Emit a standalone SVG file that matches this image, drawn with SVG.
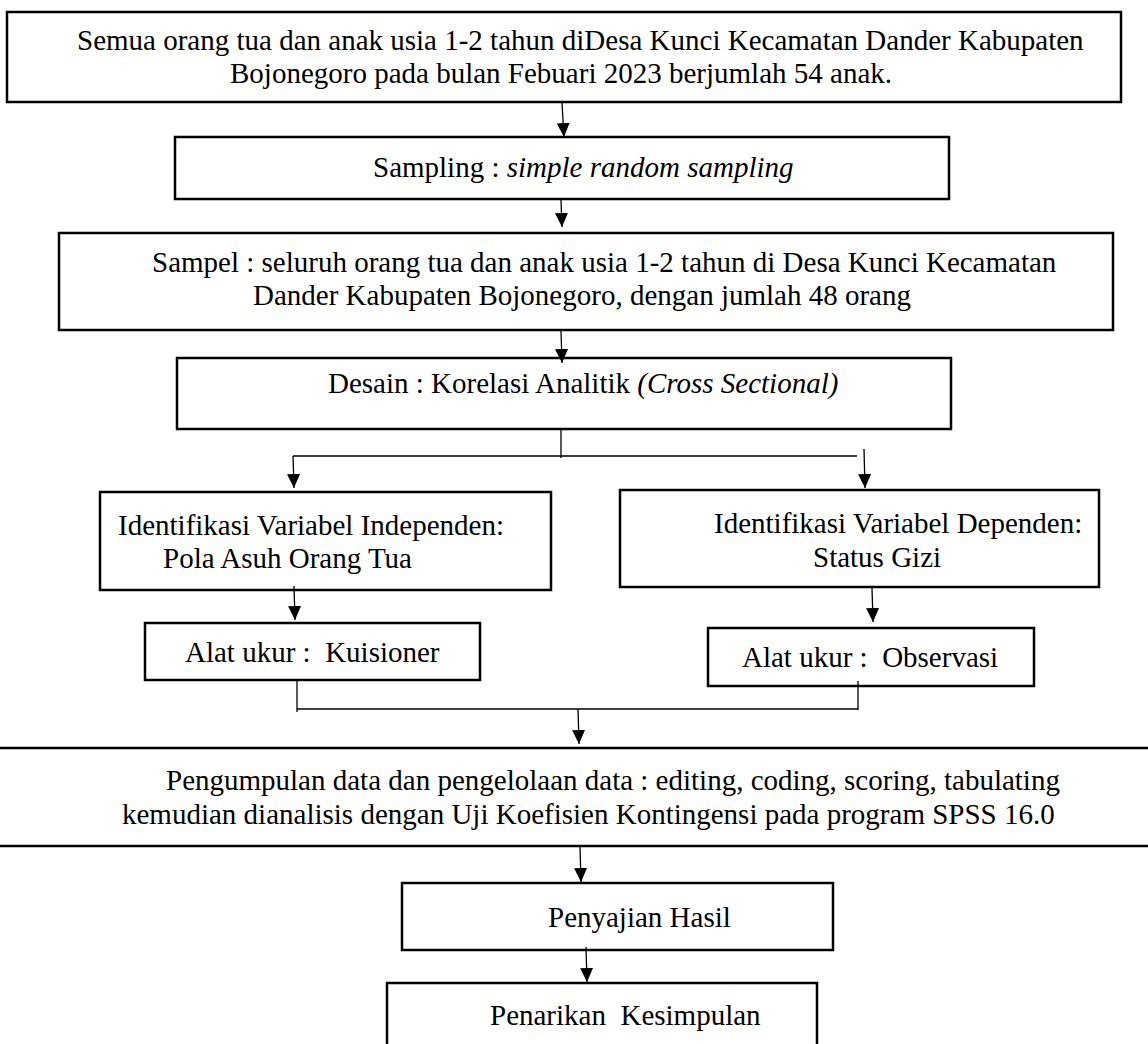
<svg xmlns="http://www.w3.org/2000/svg" width="1148" height="1044" viewBox="0 0 1148 1044">
<style>
.box{fill:#fff;stroke:#000;stroke-width:2.5}
.t{font-family:"Liberation Serif","Times New Roman",serif;font-size:29px;fill:#000}
.i{font-style:italic}
.c{fill:none;stroke:#000;stroke-width:1.3}
.a{marker-end:url(#ah)}
</style>
<defs>
<marker id="ah" markerUnits="userSpaceOnUse" markerWidth="14" markerHeight="13" refX="14" refY="6.5" orient="auto" viewBox="0 0 14 13"><path d="M0,0 L14,6.5 L0,13 z" fill="#000"/></marker>
</defs>
<rect width="1148" height="1044" fill="#fff"/>
<g id="n1"><rect class="box" x="7" y="12" width="1114" height="90"/>
<text class="t" x="77" y="50">Semua orang tua dan anak usia 1-2 tahun diDesa Kunci Kecamatan Dander Kabupaten</text>
<text class="t" x="230" y="83">Bojonegoro pada bulan Febuari 2023 berjumlah 54 anak.</text></g>
<g id="n2"><rect class="box" x="175" y="137" width="774" height="62"/>
<text class="t" x="373" y="177">Sampling : <tspan class="i">simple random sampling</tspan></text></g>
<g id="n3"><rect class="box" x="59" y="233" width="1054" height="97"/>
<text class="t" x="152" y="272">Sampel : seluruh orang tua dan anak usia 1-2 tahun di Desa Kunci Kecamatan</text>
<text class="t" x="253" y="305">Dander Kabupaten Bojonegoro, dengan jumlah 48 orang</text></g>
<g id="n4"><rect class="box" x="177" y="358" width="774" height="71"/>
<text class="t" x="328" y="393">Desain : Korelasi Analitik <tspan class="i">(Cross Sectional)</tspan></text></g>
<g id="n5"><rect class="box" x="100" y="492" width="451" height="98"/>
<text class="t" x="118" y="535">Identifikasi Variabel Independen:</text>
<text class="t" x="163" y="568">Pola Asuh Orang Tua</text></g>
<g id="n6"><rect class="box" x="620" y="490" width="479" height="97"/>
<text class="t" x="714" y="533">Identifikasi Variabel Dependen:</text>
<text class="t" x="813" y="567">Status Gizi</text></g>
<g id="n7"><rect class="box" x="145" y="623" width="335" height="57"/>
<text class="t" x="185" y="662" xml:space="preserve">Alat ukur :  Kuisioner</text></g>
<g id="n8"><rect class="box" x="708" y="628" width="326" height="58"/>
<text class="t" x="742" y="667" xml:space="preserve">Alat ukur :  Observasi</text></g>
<g id="n9"><rect class="box" x="-10" y="748" width="1170" height="98"/>
<text class="t" x="166" y="790">Pengumpulan data dan pengelolaan data : editing, coding, scoring, tabulating</text>
<text class="t" x="122" y="824">kemudian dianalisis dengan Uji Koefisien Kontingensi pada program SPSS 16.0</text></g>
<g id="n10"><rect class="box" x="402" y="883" width="431" height="67"/>
<text class="t" x="548" y="927">Penyajian Hasil</text></g>
<g id="n11"><rect class="box" x="387" y="983" width="430" height="80"/>
<text class="t" x="490" y="1025" xml:space="preserve">Penarikan  Kesimpulan</text></g>
<g id="connectors">
<line class="c a" x1="562" y1="103" x2="564" y2="137"/>
<line class="c a" x1="561" y1="200" x2="562" y2="227"/>
<line class="c a" x1="561" y1="331" x2="562" y2="363"/>
<line class="c" x1="561" y1="430" x2="561" y2="458"/>
<line class="c" x1="293" y1="456" x2="857" y2="456"/>
<line class="c a" x1="293" y1="456" x2="294" y2="488"/>
<line class="c a" x1="864" y1="449" x2="865" y2="488"/>
<line class="c a" x1="294" y1="586" x2="295" y2="620"/>
<line class="c a" x1="872" y1="588" x2="873" y2="622"/>
<line class="c" x1="297" y1="681" x2="297" y2="712"/>
<line class="c" x1="858" y1="681" x2="858" y2="710"/>
<line class="c" x1="297" y1="709" x2="858" y2="709"/>
<line class="c a" x1="578" y1="709" x2="579" y2="744"/>
<line class="c a" x1="580" y1="847" x2="581" y2="882"/>
<line class="c a" x1="586" y1="947" x2="587" y2="982"/>
</g>
</svg>
